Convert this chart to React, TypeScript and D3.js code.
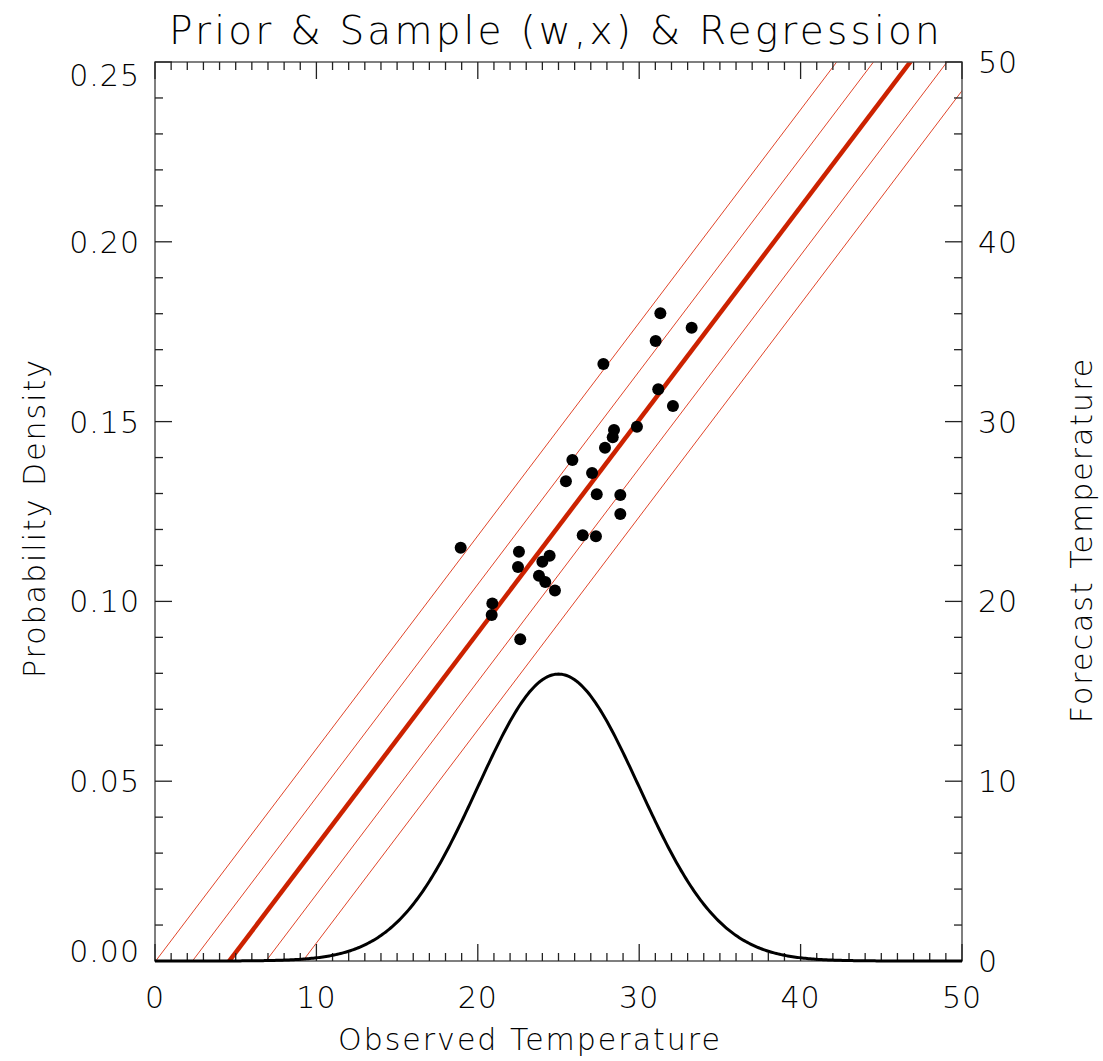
import React from "react";
import * as d3 from "d3";

const obsTemp = [31.31, 33.25, 31.02, 27.78, 31.18, 32.09, 29.86, 28.44, 28.36, 27.88, 25.86, 27.08, 25.46, 27.37, 28.83, 28.83, 26.5, 27.32, 18.94, 22.55, 24.45, 24.0, 22.49, 23.79, 24.18, 24.78, 20.9, 20.86, 22.63];
const fcstTemp = [36.02, 35.22, 34.48, 33.2, 31.8, 30.87, 29.72, 29.53, 29.13, 28.55, 27.86, 27.14, 26.68, 25.96, 25.92, 24.86, 23.68, 23.62, 22.99, 22.76, 22.54, 22.21, 21.91, 21.43, 21.08, 20.6, 19.89, 19.24, 17.89];

const regIntercept = -5.45;
const regSlope = 1.185;
const bandOffsets = [-5.4, -2.7, 2.7, 5.4];

const priorMean = 25;
const priorSd = 5;

const xTicks = [0, 10, 20, 30, 40, 50];
const leftTicks = [0, 0.05, 0.1, 0.15, 0.2, 0.25];
const rightTicks = [0, 10, 20, 30, 40, 50];

const W = 1103, H = 1061;
const L = 155, R = 962, T = 62, B = 961;
const FONT = "'DejaVu Sans', sans-serif";

export default function App() {
  const x = d3.scaleLinear().domain([0, 50]).range([L, R]);
  const yL = d3.scaleLinear().domain([0, 0.25]).range([B, T]);
  const yR = d3.scaleLinear().domain([0, 50]).range([B, T]);

  const pdf = (v: number) => Math.exp(-0.5 * ((v - priorMean) / priorSd) ** 2) / (priorSd * Math.sqrt(2 * Math.PI));
  const xs = d3.range(0, 50.001, 0.1);
  const curve = d3.line<number>().x((v) => x(v)).y((v) => yL(pdf(v)))(xs) || "";

  const regLine = (off: number) => {
    const x0 = -10, x1 = 60;
    return { x1: x(x0), y1: yR(regIntercept + off + regSlope * x0), x2: x(x1), y2: yR(regIntercept + off + regSlope * x1) };
  };

  const xMinor = d3.range(0, 50.001, 1);
  const lMinor = d3.range(0, 0.2501, 0.01);
  const rMinor = d3.range(0, 50.001, 2);

  const leftLabelY = (v: number, i: number) => {
    if (i === 0) return yL(v) + 1;
    if (i === leftTicks.length - 1) return yL(v) + 24;
    return yL(v) + 11;
  };

  return (
    <svg width={W} height={H} style={{ position: "absolute", left: 0, top: 0, background: "#fff" }} fontFamily={FONT} fontWeight={200}>
      <defs>
        <clipPath id="plot">
          <rect x={L} y={T} width={R - L} height={B - T} />
        </clipPath>
      </defs>
      <rect x={0} y={0} width={W} height={H} fill="#fff" />
      <g clipPath="url(#plot)">
        {bandOffsets.map((o, i) => {
          const p = regLine(o);
          return <line key={i} {...p} stroke="#e0452a" strokeWidth={1} />;
        })}
        {(() => {
          const p = regLine(0);
          return <line {...p} stroke="#cc2200" strokeWidth={4.5} />;
        })()}
      </g>
      <rect x={L} y={T} width={R - L} height={B - T} fill="none" stroke="#555" strokeWidth={1.5} />
      {xMinor.map((v, i) => {
        const major = Math.abs(v % 10) < 1e-6;
        const len = major ? 17 : 8;
        return (
          <g key={"x" + i} stroke="#222" strokeWidth={1.3}>
            <line x1={x(v)} x2={x(v)} y1={B} y2={B - len} />
            <line x1={x(v)} x2={x(v)} y1={T} y2={T + len} />
          </g>
        );
      })}
      {lMinor.map((v, i) => {
        const major = i % 5 === 0;
        const len = major ? 17 : 8;
        return <line key={"l" + i} x1={L} x2={L + len} y1={yL(v)} y2={yL(v)} stroke="#222" strokeWidth={1.3} />;
      })}
      {rMinor.map((v, i) => {
        const major = i % 5 === 0;
        const len = major ? 17 : 8;
        return <line key={"r" + i} x1={R} x2={R - len} y1={yR(v)} y2={yR(v)} stroke="#222" strokeWidth={1.3} />;
      })}
      <path d={curve} fill="none" stroke="#000" strokeWidth={3} />
      {obsTemp.map((v, i) => (
        <circle key={"p" + i} cx={x(v)} cy={yR(fcstTemp[i])} r={6} fill="#000" />
      ))}
      {xTicks.map((v) => (
        <text key={"xt" + v} x={x(v)} y={1008} textAnchor="middle" fontSize={30} fill="#000" letterSpacing={1}>
          {v}
        </text>
      ))}
      {leftTicks.map((v, i) => (
        <text key={"lt" + v} x={140} y={leftLabelY(v, i)} textAnchor="end" fontSize={30} fill="#000" letterSpacing={1}>
          {v.toFixed(2)}
        </text>
      ))}
      {rightTicks.map((v) => (
        <text key={"rt" + v} x={978} y={yR(v) + 11} textAnchor="start" fontSize={30} fill="#000" letterSpacing={1}>
          {v}
        </text>
      ))}
      <text x={556} y={44} textAnchor="middle" fontSize={39} fill="#000" letterSpacing={3.2}>
        Prior &amp; Sample (w,x) &amp; Regression
      </text>
      <text x={530} y={1050} textAnchor="middle" fontSize={30} fill="#000" letterSpacing={2}>
        Observed Temperature
      </text>
      <text transform={`translate(45,518) rotate(-90)`} textAnchor="middle" fontSize={30} fill="#000" letterSpacing={2}>
        Probability Density
      </text>
      <text transform={`translate(1092,540) rotate(-90)`} textAnchor="middle" fontSize={30} fill="#000" letterSpacing={2}>
        Forecast Temperature
      </text>
    </svg>
  );
}
